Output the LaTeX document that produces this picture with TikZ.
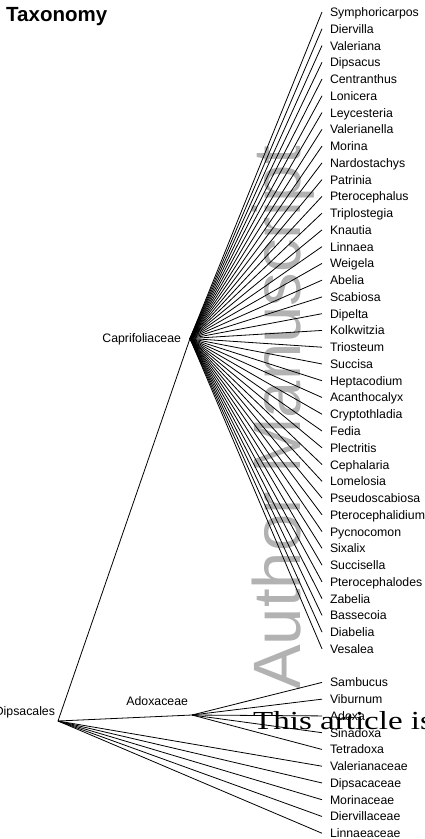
\documentclass[tikz,border=0pt]{standalone}
\usepackage{fontspec}
\setmainfont{Liberation Sans}
\newfontfamily\serifwm{Liberation Serif}
\begin{document}
\begin{tikzpicture}[x=1pt,y=-1pt,
  edge/.style={line width=0.8pt, black},
  leaf/.style={anchor=west, inner xsep=8pt, inner ysep=0pt, outer sep=0pt,
    text height=10pt, text depth=1pt, font=\fontsize{12.3}{14}\selectfont},
  grouplab/.style={anchor=east, inner sep=0pt, outer sep=0pt,
    text height=10pt, text depth=1pt, font=\fontsize{12.3}{14}\selectfont}]
\useasboundingbox (0,0) rectangle (425,839);
% watermark
\node[rotate=90, anchor=base west, inner sep=0pt, text=black!30,
  font=\fontsize{67}{70}\selectfont] (wm) at (300,690) {Author Manuscript};
% title
\node[anchor=base west, inner sep=0pt, font=\bfseries\fontsize{20.5}{24}\selectfont] (title) at (6,21.7) {Taxonomy};
% internal nodes
\coordinate (dips) at (58,721);
\coordinate (capri) at (190,338.5);
\coordinate (adox) at (192,715);
\node[grouplab] (dipslab) at (55,711.2) {Dipsacales};
\node[grouplab] (caprilab) at (181,338.2) {Caprifoliaceae};
\node[grouplab] (adoxlab) at (188,700.5) {Adoxaceae};
\draw[edge] (dips) -- (capri);
\draw[edge] (dips) -- (adox);
% Caprifoliaceae leaves
\foreach \n [count=\i from 0] in {Symphoricarpos, Diervilla, Valeriana, Dipsacus, Centranthus, Lonicera, Leycesteria, Valerianella, Morina, Nardostachys, Patrinia, Pterocephalus, Triplostegia, Knautia, Linnaea, Weigela, Abelia, Scabiosa, Dipelta, Kolkwitzia, Triosteum, Succisa, Heptacodium, Acanthocalyx, Cryptothladia, Fedia, Plectritis, Cephalaria, Lomelosia, Pseudoscabiosa, Pterocephalidium, Pycnocomon, Sixalix, Succisella, Pterocephalodes, Zabelia, Bassecoia, Diabelia, Vesalea}{
  \node[leaf] (c\i) at (322,{12+\i*16.76}) {\n};
  \draw[edge] (capri) -- (c\i.west);
}
% Adoxaceae leaves
\foreach \n [count=\i from 40] in {Sambucus, Viburnum, Adoxa, Sinadoxa, Tetradoxa}{
  \node[leaf] (a\i) at (322,{12+\i*16.76}) {\n};
  \draw[edge] (adox) -- (a\i.west);
}
% Dipsacales direct leaves
\foreach \n [count=\i from 45] in {Valerianaceae, Dipsacaceae, Morinaceae, Diervillaceae, Linnaeaceae}{
  \node[leaf] (d\i) at (322,{12+\i*16.76}) {\n};
  \draw[edge] (dips) -- (d\i.west);
}
% overlay text
\node[anchor=base west, inner sep=0pt] (art) at (253,729)
  {\serifwm\fontsize{26}{30}\selectfont\scalebox{1.27}[1]{This article is}};
\end{tikzpicture}
\end{document}
